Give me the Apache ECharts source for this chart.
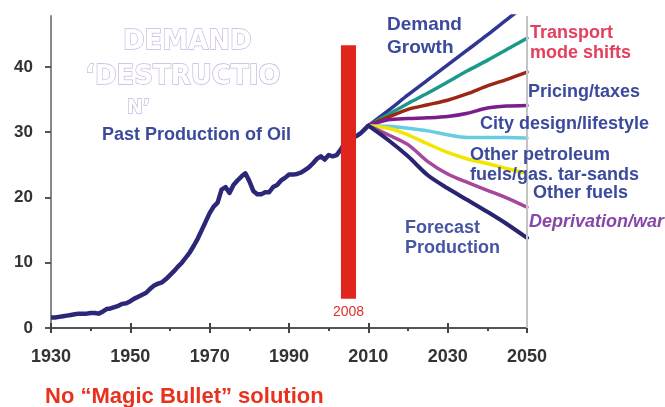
<!DOCTYPE html>
<html><head><meta charset="utf-8">
<script src="https://cdn.jsdelivr.net/npm/echarts@6/dist/echarts.min.js"></script>
<style>html,body{margin:0;padding:0;background:#fff}#c{width:665px;height:407px}</style>
</head><body><div id="c"></div>
<script>
// ---- data ----
const pastYears = [1930,1931,1932,1933,1934,1935,1936,1937,1938,1939,1940,1941,1942,1943,1944,1945,1946,1947,1948,1949,
  1950,1951,1952,1953,1954,1955,1956,1957,1958,1959,1960,1961,1962,1963,1964,1965,1966,1967,1968,1969,
  1970,1971,1972,1973,1974,1975,1976,1977,1978,1979,1980,1981,1982,1983,1984,1985,1986,1987,1988,1989,
  1990,1991,1992,1993,1994,1995,1996,1997,1998,1999,2000,2001,2002,2003,2004,2005,2006,2007,2008,2009,2010];
const pastProduction = [1.6,1.6,1.7,1.8,1.9,2.0,2.1,2.2,2.2,2.2,2.3,2.3,2.2,2.5,2.9,3.0,3.2,3.4,3.7,3.8,
  4.1,4.5,4.8,5.1,5.4,6.0,6.5,6.8,7.0,7.5,8.1,8.7,9.4,10.0,10.8,11.6,12.6,13.7,15.0,16.3,
  17.6,18.6,19.2,21.2,21.6,20.7,21.9,22.6,23.2,23.7,22.5,21.0,20.5,20.5,20.8,20.8,21.6,21.9,22.6,23.0,
  23.5,23.5,23.6,23.8,24.2,24.6,25.2,25.9,26.3,25.8,26.5,26.3,26.5,27.3,28.3,28.7,29.1,29.4,29.8,30.4,31.0];
const forecastYears = [2010,2015,2020,2025,2030,2035,2040,2045,2050];
const demandGrowth        = [31.0,33.3,35.7,38.0,40.3,42.6,44.9,47.3,49.6];
const transportModeShifts = [31.0,32.7,34.4,36.0,37.7,39.4,41.0,42.7,44.4];
const pricingTaxes        = [31.0,32.3,33.5,34.2,34.9,35.9,37.1,38.1,39.2];
const cityDesign          = [31.0,31.9,32.1,32.2,32.4,32.9,33.7,34.0,34.1];
const otherPetroleum      = [31.0,30.9,30.6,30.2,29.6,29.2,29.2,29.2,29.1];
const otherFuels          = [31.0,30.6,29.6,28.2,26.9,25.9,25.2,24.4,23.7];
const deprivationWar      = [31.0,29.6,28.1,25.5,23.6,22.3,21.1,19.9,18.5];
const forecastProduction  = [31.0,28.8,26.3,23.4,21.4,19.6,17.8,15.9,13.8];
const markerBar = [2003.1, 2006.9, 4.5, 43.3];
const markerLabel = '2008';
const yTicks = [0,10,20,30,40];
const xMin = 1930, xMax = 2050, xStep = 20;
const yMax = 47.8;

// ---- helpers ----
const FONT = '"Liberation Sans", Arial, sans-serif';
const pairs = (xs, ys) => xs.map((x, i) => [x, ys[i]]);
function fanLine(name, values, color, width) {
  return { name, type: 'line', data: pairs(forecastYears, values), showSymbol: false, smooth: 0.3,
    lineStyle: { color, width, cap: 'round', join: 'round' }, z: 3 };
}

const blue = '#3b4a9c';
function label(text, x, y, color, size, extra) {
  return { type: 'text', x, y, z: 100, style: Object.assign({ text, fill: color,
    font: 'bold ' + size + 'px ' + FONT, textAlign: 'left', textVerticalAlign: 'middle' }, extra || {}) };
}
function outline(text, x, y, size) {
  return { type: 'text', x, y, z: 100, style: { text, fill: '#ffffff', stroke: '#c6b6e0', lineWidth: 1.3,
    font: 'bold ' + size + 'px "DejaVu Sans", sans-serif', textAlign: 'left', textVerticalAlign: 'middle' } };
}

const chart = echarts.init(document.getElementById('c'));
chart.setOption({
  animation: false,
  backgroundColor: '#ffffff',
  grid: { left: 51, right: 138, top: 16, bottom: 79 },
  xAxis: [{
    type: 'value', min: xMin, max: xMax, interval: xStep,
    axisLine: { lineStyle: { color: '#555', width: 2 } },
    axisTick: { length: 5, lineStyle: { color: '#444', width: 2 } },
    minorTick: { show: true, splitNumber: 2, length: 3, lineStyle: { color: '#444', width: 2 } },
    splitLine: { show: false },
    axisLabel: { margin: 20, fontSize: 18, fontWeight: 'bold', color: '#333', fontFamily: FONT, formatter: v => String(v) }
  }, {
    type: 'value', min: xMin, max: xMax, interval: xStep, position: 'bottom',
    axisLine: { show: false },
    axisTick: { inside: true, length: 5, lineStyle: { color: '#444', width: 2 } },
    axisLabel: { show: false }, splitLine: { show: false }
  }],
  yAxis: {
    type: 'value', min: 0, max: yMax,
    axisLine: { show: true, lineStyle: { color: '#888', width: 2 } },
    axisTick: { show: true, length: 6, customValues: yTicks, lineStyle: { color: '#555', width: 2 } },
    axisLabel: { customValues: yTicks, margin: 18, fontSize: 17, fontWeight: 'bold', color: '#333', fontFamily: FONT },
    splitLine: { show: false }
  },
  series: [
    { name: 'Past Production of Oil', type: 'line', data: pairs(pastYears, pastProduction), showSymbol: false,
      lineStyle: { color: '#2b2878', width: 4.5, join: 'round' }, z: 4,
      markLine: { silent: true, symbol: 'none', label: { show: false },
        lineStyle: { color: '#c4c4c4', width: 2, type: 'solid' }, data: [{ xAxis: xMax }] } },
    fanLine('Demand Growth', demandGrowth, '#2f3693', 3.5),
    fanLine('Transport mode shifts', transportModeShifts, '#1b9a8c', 3.5),
    fanLine('Pricing/taxes', pricingTaxes, '#9b2814', 3.5),
    fanLine('City design/lifestyle', cityDesign, '#7b1d8c', 3.5),
    fanLine('Other petroleum', otherPetroleum, '#68cde0', 3.5),
    fanLine('Other fuels', otherFuels, '#f2e600', 3.5),
    fanLine('Deprivation/war', deprivationWar, '#a6479d', 3.5),
    fanLine('Forecast Production', forecastProduction, '#29246f', 4),
    { name: 'marker', type: 'custom', z: 10, data: [markerBar], encode: { x: [0, 1], y: [2, 3] },
      renderItem: (params, api) => {
        const p0 = api.coord([api.value(0), api.value(3)]);
        const p1 = api.coord([api.value(1), api.value(2)]);
        return { type: 'group', children: [
          { type: 'rect', shape: { x: p0[0], y: p0[1], width: p1[0] - p0[0], height: p1[1] - p0[1] },
            style: { fill: '#e0251d' } },
          { type: 'text', x: (p0[0] + p1[0]) / 2, y: p1[1] + 7,
            style: { text: markerLabel, fill: '#e0302a', font: '14px ' + FONT, textAlign: 'center', textVerticalAlign: 'top' } }
        ] };
      } }
  ],
  graphic: [
    outline('DEMAND', 123, 42, 26),
    outline('\u2018DESTRUCTIO', 85, 77, 26),
    outline('N\u2019', 127, 108, 19),
    label('Past Production of Oil', 102, 135, blue, 18),
    label('Demand', 387, 25, blue, 19),
    label('Growth', 387, 48, blue, 19),
    label('Transport', 530, 33, '#e2405e', 18),
    label('mode shifts', 530, 53, '#e2405e', 18),
    label('Pricing/taxes', 528, 92, blue, 18),
    label('City design/lifestyle', 480, 124, blue, 18),
    label('Other petroleum', 470, 155, blue, 18),
    label('fuels/gas. tar-sands', 470, 175, blue, 18),
    label('Other fuels', 533, 193, blue, 18),
    { type: 'text', x: 529, y: 222, z: 100, style: { text: 'Deprivation/war', fill: '#8647a6',
      font: 'italic bold 18px ' + FONT, textAlign: 'left', textVerticalAlign: 'middle' } },
    label('Forecast', 405, 228, '#4656a4', 18),
    label('Production', 405, 248, '#4656a4', 18),
    label('No \u201cMagic Bullet\u201d solution', 45, 397, '#e8321e', 22)
  ]
});
</script></body></html>
